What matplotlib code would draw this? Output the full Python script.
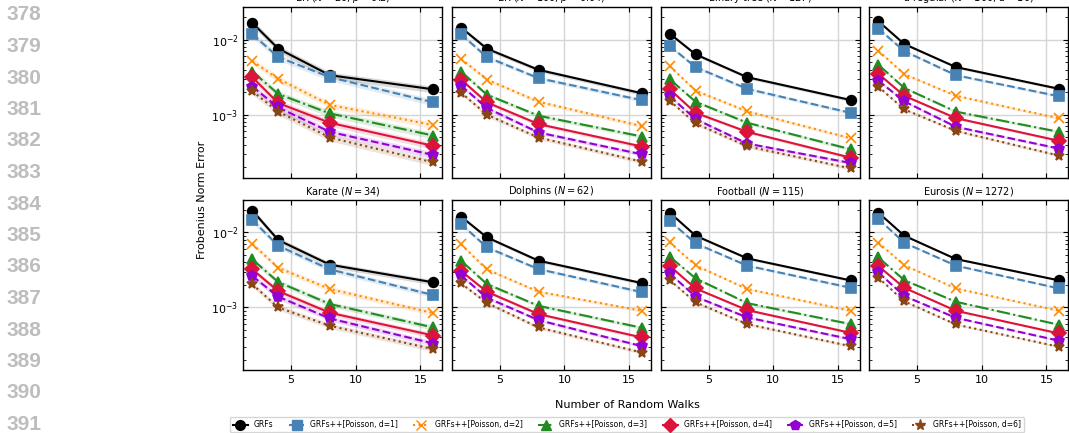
import matplotlib.pyplot as plt
from matplotlib.lines import Line2D
import numpy as np

walks = [2, 4, 8, 16]

titles = [
    r'ER ($N = 20$, $p = 0.2$)',
    r'ER ($N = 100$, $p = 0.04$)',
    r'Binary tree ($N = 127$)',
    r'$d$-regular ($N = 100$, $d = 10$)',
    r'Karate ($N = 34$)',
    r'Dolphins ($N = 62$)',
    r'Football ($N = 115$)',
    r'Eurosis ($N = 1272$)',
]

labels = ['GRFs', 'GRFs++[Poisson, d=1]', 'GRFs++[Poisson, d=2]', 'GRFs++[Poisson, d=3]',
          'GRFs++[Poisson, d=4]', 'GRFs++[Poisson, d=5]', 'GRFs++[Poisson, d=6]']

# error per panel, one row per method (GRFs, d=1..6)
err_er20 = [
    [0.0167, 0.0076, 0.00336, 0.00218],
    [0.0118, 0.00586, 0.00316, 0.00146],
    [0.00518, 0.00301, 0.00135, 0.000728],
    [0.00376, 0.00189, 0.00104, 0.000528],
    [0.00316, 0.00143, 0.000781, 0.000385],
    [0.00237, 0.00125, 0.000591, 0.000291],
    [0.00205, 0.0011, 0.000497, 0.000232],
]
err_er100 = [
    [0.0145, 0.00758, 0.00396, 0.00193],
    [0.0118, 0.00586, 0.00307, 0.00156],
    [0.00557, 0.00294, 0.00149, 0.000705],
    [0.00376, 0.00185, 0.00097, 0.000513],
    [0.00294, 0.00146, 0.00075, 0.000377],
    [0.00245, 0.00123, 0.00058, 0.000297],
    [0.00197, 0.0010, 0.000497, 0.000237],
]
err_tree = [
    [0.0120, 0.00637, 0.00316, 0.00157],
    [0.00823, 0.00431, 0.00221, 0.00106],
    [0.00444, 0.00209, 0.00111, 0.000487],
    [0.00297, 0.00149, 0.000781, 0.000347],
    [0.00218, 0.00106, 0.000591, 0.000268],
    [0.00176, 0.000875, 0.000413, 0.000228],
    [0.00154, 0.000766, 0.00038, 0.000193],
]
err_dreg = [
    [0.0176, 0.00875, 0.00431, 0.00221],
    [0.0140, 0.00705, 0.00336, 0.00176],
    [0.00712, 0.00347, 0.00179, 0.000893],
    [0.00463, 0.00228, 0.0011, 0.000591],
    [0.00351, 0.00179, 0.000901, 0.000449],
    [0.00285, 0.00151, 0.00069, 0.000354],
    [0.00237, 0.00118, 0.00061, 0.000285],
]
err_karate = [
    [0.0195, 0.0079, 0.00371, 0.00216],
    [0.0146, 0.00664, 0.00321, 0.00146],
    [0.00699, 0.00338, 0.00176, 0.00084],
    [0.00436, 0.00218, 0.00111, 0.000541],
    [0.00321, 0.00165, 0.000849, 0.000423],
    [0.00262, 0.00139, 0.000713, 0.000331],
    [0.00203, 0.0010, 0.00057, 0.000278],
]
err_dolphins = [
    [0.0162, 0.00858, 0.00419, 0.00211],
    [0.0129, 0.00631, 0.00324, 0.0016],
    [0.00692, 0.00321, 0.00162, 0.000903],
    [0.00419, 0.00205, 0.00105, 0.000536],
    [0.00305, 0.00162, 0.000815, 0.000398],
    [0.00267, 0.00135, 0.000678, 0.000305],
    [0.00209, 0.00115, 0.000541, 0.000251],
]
err_football = [
    [0.0183, 0.00903, 0.0045, 0.00229],
    [0.0142, 0.00713, 0.0036, 0.00183],
    [0.00736, 0.00363, 0.00176, 0.000903],
    [0.00474, 0.00244, 0.00114, 0.0006],
    [0.00356, 0.00179, 0.000921, 0.000459],
    [0.00284, 0.00139, 0.000736, 0.000378],
    [0.00231, 0.00117, 0.0006, 0.000305],
]
err_eurosis = [
    [0.0183, 0.00903, 0.00441, 0.00229],
    [0.0151, 0.00728, 0.0036, 0.00179],
    [0.00728, 0.00366, 0.00179, 0.000903],
    [0.00464, 0.00231, 0.00119, 0.000587],
    [0.00356, 0.00183, 0.000903, 0.00045],
    [0.00293, 0.00142, 0.000728, 0.00036],
    [0.00249, 0.00121, 0.000593, 0.000299],
]
panels = [err_er20, err_er100, err_tree, err_dreg,
          err_karate, err_dolphins, err_football, err_eurosis]

# rough relative half-width of the shaded bands, per panel
band_rel = [0.10, 0.06, 0.05, 0.04, 0.08, 0.05, 0.04, 0.03]

colors = ['black', '#4682B4', '#FF8C00', '#228B22', '#DC143C', '#9400D3', '#8B4513']
styles = ['-', '--', ':', '-.', '-', '--', ':']
markers = ['o', 's', 'x', '^', 'D', 'p', '*']
msizes = [7, 7, 7, 7, 7, 7, 8]

W, H = 1069, 433
fig = plt.figure(figsize=(W / 100, H / 100), dpi=100)

col_left = [243.3, 452.0, 660.7, 869.3]
ax_w = 199.0
row_top = [7.0, 199.7]
ax_h = 170.5

axes = []
for i in range(8):
    r, c = divmod(i, 4)
    rect = [col_left[c] / W, 1 - (row_top[r] + ax_h) / H, ax_w / W, ax_h / H]
    ax = fig.add_axes(rect, sharex=axes[0] if axes else None, sharey=axes[0] if axes else None)
    axes.append(ax)

x = np.array(walks)
for i, ax in enumerate(axes):
    r, c = divmod(i, 4)
    for k in range(7):
        y = np.array(panels[i][k])
        ax.fill_between(x, y * (1 - band_rel[i]), y * (1 + band_rel[i]),
                        color=colors[k], alpha=0.15, linewidth=0)
        ax.plot(x, y, color=colors[k], linestyle=styles[k], marker=markers[k],
                markersize=msizes[k], linewidth=1.5, markeredgewidth=1.2)
    ax.set_yscale('log')
    ax.set_title(titles[i], fontsize=7, pad=4)
    ax.grid(True, which='major', color='#d5d5d5', linewidth=1)
    ax.set_axisbelow(True)
    ax.tick_params(which='both', direction='in', top=True, right=True, labelsize=8)
    ax.tick_params(which='major', length=3.5)
    ax.tick_params(which='minor', length=2)
    for s in ax.spines.values():
        s.set_linewidth(1.0)
    if c > 0:
        ax.tick_params(labelleft=False)
    if r == 0:
        ax.tick_params(labelbottom=False)

axes[0].set_ylim(1.46e-4, 0.0272)
axes[0].set_xticks([5, 10, 15])

fig.text(627 / W, 1 - 405 / H, 'Number of Random Walks', ha='center', va='center', fontsize=8)
fig.text(202 / W, 1 - 200 / H, 'Frobenius Norm Error', ha='center', va='center',
         rotation=90, fontsize=8)

handles = [Line2D([], [], color=colors[k], linestyle=styles[k], marker=markers[k],
                  markersize=msizes[k], linewidth=1.5) for k in range(7)]
fig.legend(handles, labels, loc='lower center', bbox_to_anchor=(627 / W, 0.0),
           ncol=7, fontsize=5.5, frameon=True, borderaxespad=0.1, columnspacing=2.0)

# manuscript line numbers in the margin
for n in range(14):
    fig.text(24 / W, 1 - (15 + n * 31.5) / H, str(378 + n), ha='center', va='center',
             fontsize=15, fontweight='bold', color='#bdbdbd', family='Liberation Sans')

fig.savefig('out.png', dpi=100)
